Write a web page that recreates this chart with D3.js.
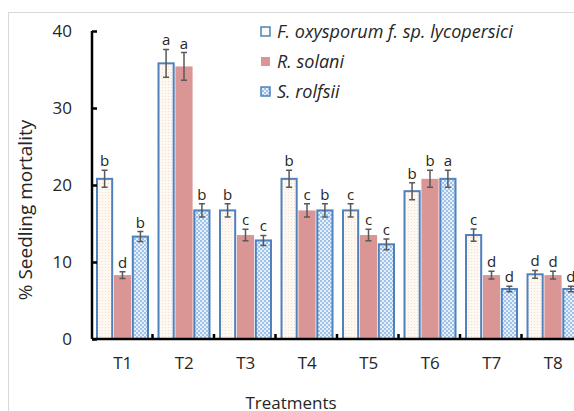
<!DOCTYPE html>
<html>
<head>
<meta charset="utf-8">
<script src="https://cdn.jsdelivr.net/npm/d3@7"></script>
<style>
  body { margin: 0; background: #fff; }
  text { font-family: "Open Sans", "Liberation Sans", sans-serif; fill: #262626; }
</style>
</head>
<body>
<div id="chart"></div>
<script>
// data
var treatments = ["T1", "T2", "T3", "T4", "T5", "T6", "T7", "T8"];
var seriesNames = ["F. oxysporum f. sp. lycopersici", "R. solani", "S. rolfsii"];
var fol = [20.8, 35.8, 16.7, 20.8, 16.7, 19.2, 13.5, 8.4];
var rsol = [8.3, 35.4, 13.5, 16.7, 13.5, 20.8, 8.3, 8.3];
var srol = [13.3, 16.7, 12.8, 16.7, 12.3, 20.8, 6.5, 6.5];
var folErr = [1.1, 1.8, 0.85, 1.1, 0.85, 1.1, 0.8, 0.5];
var rsolErr = [0.45, 1.8, 0.75, 0.85, 0.75, 1.1, 0.5, 0.5];
var srolErr = [0.65, 0.85, 0.65, 0.85, 0.7, 1.1, 0.35, 0.35];
var folLetters = ["b", "a", "b", "b", "c", "b", "c", "d"];
var rsolLetters = ["d", "a", "c", "c", "c", "b", "d", "d"];
var srolLetters = ["b", "b", "c", "b", "c", "a", "d", "d"];
var yTicks = [0, 10, 20, 30, 40];

var svgWidth = 574, svgHeight = 411;
var svg = d3.select("#chart").append("svg")
    .attr("width", svgWidth)
    .attr("height", svgHeight);

// patterns for the bars
var defs = svg.append("defs");
var p1 = defs.append("pattern").attr("id", "dotsF")
    .attr("width", 3).attr("height", 3).attr("patternUnits", "userSpaceOnUse");
p1.append("rect").attr("width", 3).attr("height", 3).attr("fill", "#fef8f3");
p1.append("rect").attr("width", 1).attr("height", 1).attr("fill", "#f6dccb");
var p2 = defs.append("pattern").attr("id", "checkS")
    .attr("width", 4).attr("height", 4).attr("patternUnits", "userSpaceOnUse");
p2.append("rect").attr("width", 4).attr("height", 4).attr("fill", "#e6f0fa");
p2.append("rect").attr("width", 2).attr("height", 2).attr("fill", "#9fc3e8");
p2.append("rect").attr("x", 2).attr("y", 2).attr("width", 2).attr("height", 2).attr("fill", "#9fc3e8");

// outer frame
svg.append("rect")
    .attr("x", 8.5).attr("y", 12.5)
    .attr("width", 600).attr("height", 450)
    .attr("fill", "none").attr("stroke", "#d9d9d9");

var margins = { left: 92, top: 31, bottom: 72 };
var plotBottom = svgHeight - margins.bottom; // 339

var xScale = d3.scaleBand()
    .domain(treatments)
    .range([margins.left, margins.left + 8 * 61.5]);
var inner = d3.scaleBand()
    .domain([0, 1, 2])
    .range([4, 57])
    .paddingInner(0.04);
var yScale = d3.scaleLinear()
    .domain([0, 40])
    .range([plotBottom, margins.top]);

var series = [
    { vals: fol, err: folErr, letters: folLetters, fill: "url(#dotsF)", stroke: "#4f81bd" },
    { vals: rsol, err: rsolErr, letters: rsolLetters, fill: "#d99694", stroke: "none" },
    { vals: srol, err: srolErr, letters: srolLetters, fill: "url(#checkS)", stroke: "#4f81bd" }
];

var group = svg.append("g");

series.forEach(function(s, si) {
    var g = group.append("g");
    g.selectAll("rect")
        .data(treatments)
        .enter()
        .append("rect")
        .attr("x", (d, i) => xScale(d) + inner(si) + (s.stroke === "none" ? 0 : 1))
        .attr("y", (d, i) => yScale(s.vals[i]))
        .attr("width", inner.bandwidth() - (s.stroke === "none" ? 0 : 2))
        .attr("height", (d, i) => plotBottom - yScale(s.vals[i]))
        .attr("fill", s.fill)
        .attr("stroke", s.stroke)
        .attr("stroke-width", 2);

    // error bars
    var cx = (d) => xScale(d) + inner(si) + inner.bandwidth() / 2;
    g.selectAll(".err")
        .data(treatments)
        .enter()
        .append("path")
        .attr("class", "err")
        .attr("d", function(d, i) {
            var x = cx(d), y0 = yScale(s.vals[i] - s.err[i]), y1 = yScale(s.vals[i] + s.err[i]);
            return "M" + x + "," + y0 + "V" + y1 +
                "M" + (x - 3) + "," + y0 + "H" + (x + 3) +
                "M" + (x - 3) + "," + y1 + "H" + (x + 3);
        })
        .attr("stroke", "#595959")
        .attr("stroke-width", 1.5)
        .attr("fill", "none");

    // significance letters
    g.selectAll(".lbl")
        .data(treatments)
        .enter()
        .append("text")
        .attr("class", "lbl")
        .attr("x", d => cx(d))
        .attr("y", (d, i) => yScale(s.vals[i] + s.err[i]) - 4)
        .attr("text-anchor", "middle")
        .attr("font-size", "15px")
        .text((d, i) => s.letters[i]);
});

// y axis
var yAxis = d3.axisLeft(yScale).tickValues(yTicks).tickSize(-5).tickPadding(20);
var yG = svg.append("g")
    .attr("transform", `translate(${margins.left}, 0)`)
    .call(yAxis);
yG.select(".domain").attr("stroke", "#000").attr("stroke-width", 2.5)
    .attr("d", `M0,${margins.top}V${plotBottom}`);
yG.selectAll(".tick line").attr("stroke", "#000").attr("stroke-width", 2.5);
yG.selectAll(".tick text").attr("font-size", "17px").attr("fill", "#262626")
    .style("font-family", "'Open Sans', sans-serif");

// x axis
var xAxis = d3.axisBottom(xScale).tickSize(0).tickPadding(18);
var xG = svg.append("g")
    .attr("transform", `translate(0, ${plotBottom})`)
    .call(xAxis);
xG.select(".domain").attr("stroke", "#000").attr("stroke-width", 2.5)
    .attr("d", `M${margins.left},0H${svgWidth}`);
xG.selectAll(".tick text").attr("font-size", "17px").attr("fill", "#262626")
    .style("font-family", "'Open Sans', sans-serif");
// category boundary ticks
xG.selectAll(".bound")
    .data(treatments.slice(1))
    .enter()
    .append("line")
    .attr("x1", d => xScale(d) - 1)
    .attr("x2", d => xScale(d) - 1)
    .attr("y1", 0).attr("y2", -5)
    .attr("stroke", "#000").attr("stroke-width", 2.5);

// axis titles
svg.append("text")
    .attr("transform", "translate(32, 210) rotate(-90)")
    .attr("text-anchor", "middle")
    .attr("font-size", "19px")
    .text("% Seedling mortality");
svg.append("text")
    .attr("x", 291).attr("y", 409)
    .attr("text-anchor", "middle")
    .attr("font-size", "17px")
    .text("Treatments");

// legend
var legend = svg.append("g").attr("transform", "translate(260, 32)");
var legendFills = ["#fef8f3", "#d99694", "url(#checkS)"];
var legendStrokes = ["#4f81bd", "none", "#4f81bd"];
seriesNames.forEach(function(name, i) {
    var row = legend.append("g").attr("transform", `translate(0, ${i * 30})`);
    row.append("rect")
        .attr("x", 1).attr("y", -5)
        .attr("width", 9).attr("height", 9)
        .attr("fill", legendFills[i])
        .attr("stroke", legendStrokes[i])
        .attr("stroke-width", 1.5);
    row.append("text")
        .attr("x", 17).attr("y", 6)
        .attr("font-size", "18px")
        .attr("font-style", "italic")
        .text(name);
});
</script>
</body>
</html>
